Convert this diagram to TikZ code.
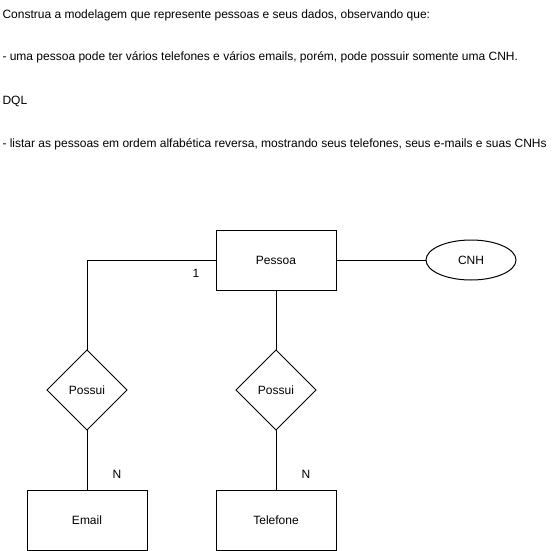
\documentclass[tikz,border=0pt]{standalone}
\usepackage{fontspec}
\setmainfont{Liberation Sans}
\usetikzlibrary{shapes.geometric, positioning}

\begin{document}
\begin{tikzpicture}[x=1pt,y=-1pt,semithick,line width=1pt,node distance=60pt]

	\tikzstyle{every node}=[font=\fontsize{12}{14}\selectfont]

	\tikzstyle{entity}=[rectangle,draw,minimum width=120pt,minimum height=60pt,inner sep=0pt,outer sep=0pt]
	\tikzstyle{relation}=[diamond,draw,minimum width=80pt,minimum height=80pt,inner sep=0pt,outer sep=0pt]
	\tikzstyle{attribute}=[ellipse,draw,minimum width=90pt,minimum height=40pt,inner sep=0pt,outer sep=0pt]
	\tikzstyle{note}=[anchor=base west,inner sep=0pt]
	\tikzstyle{card}=[inner sep=0pt]

	\useasboundingbox (0,0) rectangle (560,551);

	% enunciado
	\node[note] (T1) at (2,19) {Construa a modelagem que represente pessoas e seus dados, observando que:};
	\node[note] (T2) at (2,61) {- uma pessoa pode ter vários telefones e vários emails, porém, pode possuir somente uma CNH.};
	\node[note] (T3) at (2,104) {DQL};
	\node[note] (T4) at (2,147) {- listar as pessoas em ordem alfabética reversa, mostrando seus telefones, seus e-mails e suas CNHs};

	% entidades e relacionamentos
	\node[entity]    (Pessoa) at (276,260) {Pessoa};
	\node[attribute] (CNH)      [right=90pt of Pessoa] {CNH};
	\node[relation]  (PossuiT)  [below=of Pessoa] {Possui};
	\node[entity]    (Telefone) [below=of PossuiT] {Telefone};
	\node[relation]  (PossuiE)  [left=109pt of PossuiT] {Possui};
	\node[entity]    (Email)    [below=of PossuiE] {Email};

	% cardinalidades
	\node[card] (C1) at (196,273) {1};
	\node[card] (CE) at (117,474) {N};
	\node[card] (CT) at (306,474) {N};

	\draw (Pessoa) -- (CNH);
	\draw (Pessoa.west) -| (PossuiE.north);
	\draw (PossuiE.south) -- (Email.north);
	\draw (Pessoa.south) -- (PossuiT.north);
	\draw (PossuiT.south) -- (Telefone.north);

\end{tikzpicture}
\end{document}
